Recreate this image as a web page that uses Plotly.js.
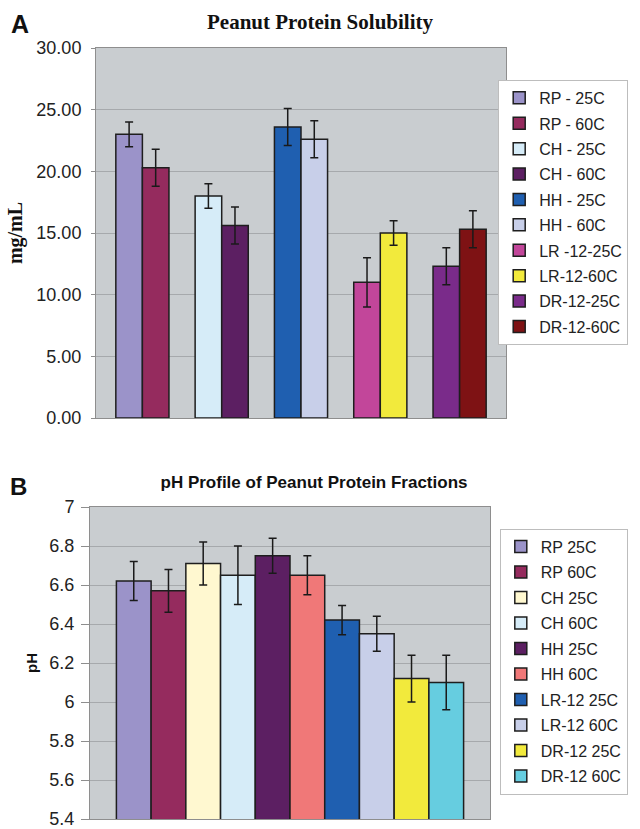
<!DOCTYPE html>
<html>
<head>
<meta charset="utf-8">
<script src="https://cdn.plot.ly/plotly-3.0.1.min.js"></script>
<style>
  html, body { margin: 0; padding: 0; background: #ffffff; overflow: hidden; }
  #chartA { position: absolute; left: 0; top: 0; width: 640px; height: 460px; }
  #chartB { position: absolute; left: 0; top: 460px; width: 640px; height: 390px; }
</style>
</head>
<body>
<div id="chartA"></div>
<div id="chartB"></div>
<script>
// ---------- Chart A data: Peanut Protein Solubility (mg/mL) ----------
const solCategories = ["RP", "CH", "HH", "LR", "DR"];
const solSeriesNames = ["RP - 25C", "RP - 60C", "CH - 25C", "CH - 60C", "HH - 25C",
                        "HH - 60C", "LR -12-25C", "LR-12-60C", "DR-12-25C", "DR-12-60C"];
const solSeriesCategory = ["RP", "RP", "CH", "CH", "HH", "HH", "LR", "LR", "DR", "DR"];
const solSeriesTemp = ["25", "60", "25", "60", "25", "60", "25", "60", "25", "60"];
const solValues = [23.0, 20.3, 18.0, 15.6, 23.6, 22.6, 11.0, 15.0, 12.3, 15.3];
const solErrors = [1.0, 1.5, 1.0, 1.5, 1.5, 1.5, 2.0, 1.0, 1.5, 1.5];
const solColors = ["#9b93c9", "#952b5e", "#d6ecf8", "#5c1f62", "#1f5fb0",
                   "#c8cfe9", "#c2469a", "#f2ea3c", "#7a2b8a", "#7e1214"];
const solTicks = [0, 5, 10, 15, 20, 25, 30];

// ---------- Chart B data: pH Profile of Peanut Protein Fractions ----------
const phSeriesNames = ["RP 25C", "RP 60C", "CH 25C", "CH 60C", "HH 25C",
                       "HH 60C", "LR-12 25C", "LR-12 60C", "DR-12 25C", "DR-12 60C"];
const phCategory = ["pH"];
const phValues = [6.62, 6.57, 6.71, 6.65, 6.75, 6.65, 6.42, 6.35, 6.12, 6.10];
const phErrors = [0.10, 0.11, 0.11, 0.15, 0.09, 0.10, 0.075, 0.09, 0.12, 0.14];
const phColors = ["#9b93c9", "#952b5e", "#fff8d0", "#d6ecf8", "#5c1f62",
                  "#f07878", "#1f5fb0", "#c8cfe9", "#f2ea3c", "#66cde0"];

const plotBg = "#c9cdd0";
const gridCol = "#a6a9ac";
const borderCol = "#8e8e8e";
const sans = "Liberation Sans, Arial, sans-serif";
const serif = "Liberation Serif, Times New Roman, serif";

// ---------- Build chart A ----------
const tracesA = solSeriesNames.map((name, i) => ({
  type: "bar",
  name: name,
  x: [solSeriesCategory[i]],
  y: [solValues[i]],
  offsetgroup: solSeriesTemp[i],
  legendgroup: "a" + i,
  marker: { color: solColors[i], line: { color: "#1e1e1e", width: 1.5 } },
  error_y: { type: "data", array: [solErrors[i]], visible: true, color: "#1a1a1a", thickness: 1.5, width: 4 },
  hoverinfo: "name+y"
}));

const layoutA = {
  width: 640, height: 460,
  margin: { l: 95.7, r: 124, t: 48, b: 41.7 },
  paper_bgcolor: "#ffffff",
  plot_bgcolor: plotBg,
  barmode: "group",
  bargap: 0.33,
  bargroupgap: 0,
  showlegend: true,
  title: {
    text: "<b>Peanut Protein Solubility</b>",
    font: { family: serif, size: 21, color: "#111" },
    x: 0.5, xref: "container", xanchor: "center",
    y: 1 - 22 / 460, yref: "container", yanchor: "middle"
  },
  xaxis: {
    type: "category",
    categoryorder: "array",
    categoryarray: solCategories,
    range: [-0.585, 4.585],
    showticklabels: false,
    ticks: "",
    showgrid: false,
    showline: true, linecolor: borderCol, linewidth: 1, mirror: true,
    zeroline: false
  },
  yaxis: {
    range: [0, 30],
    tickvals: solTicks,
    tickformat: ".2f",
    ticks: "outside", ticklen: 4, tickcolor: borderCol,
    ticklabelstandoff: 6,
    tickfont: { family: sans, size: 18, color: "#222" },
    showgrid: true, gridcolor: gridCol, gridwidth: 1,
    showline: true, linecolor: borderCol, linewidth: 1, mirror: true,
    zeroline: false,
    title: { text: "<b>mg/mL</b>", font: { family: serif, size: 20, color: "#111" }, standoff: 8 }
  },
  legend: {
    x: (508 - 95.7) / 420.3, xanchor: "left", y: (418.3 - 80) / 370.3, yanchor: "top",
    bgcolor: "#ffffff", bordercolor: "#bdbdbd", borderwidth: 1,
    font: { family: sans, size: 16, color: "#222" },
    tracegroupgap: 1.6,
    itemwidth: 30,
    traceorder: "grouped"
  },
  annotations: [{
    text: "<b>A</b>", xref: "paper", yref: "paper",
    x: -0.185, y: 1.065, xanchor: "center", yanchor: "middle",
    showarrow: false, font: { family: sans, size: 25, color: "#111" }
  }]
};

// ---------- Build chart B ----------
const tracesB = phSeriesNames.map((name, i) => ({
  type: "bar",
  name: name,
  x: phCategory,
  y: [phValues[i]],
  legendgroup: "b" + i,
  marker: { color: phColors[i], line: { color: "#1e1e1e", width: 1.5 } },
  error_y: { type: "data", array: [phErrors[i]], visible: true, color: "#1a1a1a", thickness: 1.5, width: 4 },
  hoverinfo: "name+y"
}));

const layoutB = {
  width: 640, height: 390,
  margin: { l: 90, r: 142, t: 47.3, b: 31 },
  paper_bgcolor: "#ffffff",
  plot_bgcolor: plotBg,
  barmode: "group",
  bargap: 0.132,
  bargroupgap: 0,
  showlegend: true,
  title: {
    text: "<b>pH Profile of Peanut Protein Fractions</b>",
    font: { family: sans, size: 17, color: "#111" },
    x: 314 / 640, xref: "container", xanchor: "center",
    y: 1 - 22 / 390, yref: "container", yanchor: "middle"
  },
  xaxis: {
    type: "category",
    range: [-0.5, 0.5],
    showticklabels: false,
    ticks: "",
    showgrid: false,
    showline: true, linecolor: borderCol, linewidth: 1, mirror: true,
    zeroline: false
  },
  yaxis: {
    range: [5.4, 7],
    dtick: 0.2,
    tick0: 5.4,
    ticks: "outside", ticklen: 8, tickcolor: borderCol,
    ticklabelstandoff: 3,
    tickfont: { family: sans, size: 18, color: "#222" },
    showgrid: true, gridcolor: gridCol, gridwidth: 1,
    showline: true, linecolor: borderCol, linewidth: 1, mirror: true,
    zeroline: false,
    title: { text: "<b>pH</b>", font: { family: sans, size: 15, color: "#111" }, standoff: 8 }
  },
  legend: {
    x: (508 - 90) / 408, xanchor: "left", y: (359 - 69) / 311.7, yanchor: "top",
    bgcolor: "#ffffff", bordercolor: "#bdbdbd", borderwidth: 1,
    font: { family: sans, size: 16, color: "#222" },
    tracegroupgap: 1.7,
    itemwidth: 30,
    traceorder: "grouped"
  },
  annotations: [{
    text: "<b>B</b>", xref: "paper", yref: "paper",
    x: -0.179, y: 1.065, xanchor: "center", yanchor: "middle",
    showarrow: false, font: { family: sans, size: 24, color: "#111" }
  }]
};

const config = { staticPlot: true, displayModeBar: false };
Plotly.newPlot("chartA", tracesA, layoutA, config);
Plotly.newPlot("chartB", tracesB, layoutB, config);
</script>
</body>
</html>
